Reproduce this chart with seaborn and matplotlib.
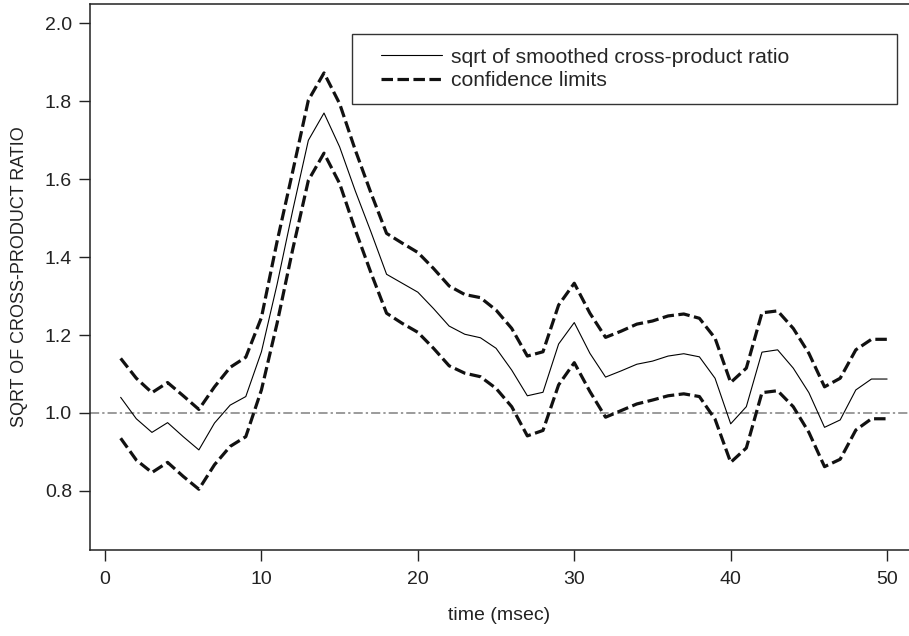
import pandas as pd
import matplotlib
matplotlib.use("Agg")
import matplotlib.pyplot as plt
from matplotlib.lines import Line2D
from matplotlib.legend_handler import HandlerLine2D
import seaborn as sns

# values
time_ms = list(range(1, 51))
ratio = [1.040, 0.985, 0.950, 0.975, 0.939, 0.905, 0.974, 1.020, 1.042, 1.157,
         1.330, 1.520, 1.700, 1.770, 1.683, 1.570, 1.465, 1.356, 1.333, 1.310,
         1.268, 1.223, 1.202, 1.193, 1.166, 1.110, 1.044, 1.053, 1.177, 1.232,
         1.153, 1.092, 1.108, 1.125, 1.133, 1.146, 1.152, 1.144, 1.089, 0.972,
         1.016, 1.156, 1.162, 1.115, 1.052, 0.963, 0.982, 1.059, 1.087, 1.087]
upper = [1.140, 1.089, 1.052, 1.078, 1.044, 1.009, 1.067, 1.117, 1.143, 1.245,
         1.440, 1.620, 1.803, 1.873, 1.794, 1.675, 1.565, 1.461, 1.436, 1.412,
         1.371, 1.326, 1.304, 1.296, 1.264, 1.217, 1.146, 1.157, 1.277, 1.333,
         1.256, 1.194, 1.210, 1.228, 1.236, 1.249, 1.254, 1.243, 1.192, 1.078,
         1.115, 1.257, 1.262, 1.217, 1.153, 1.067, 1.089, 1.162, 1.189, 1.189]
lower = [0.935, 0.879, 0.847, 0.873, 0.837, 0.804, 0.867, 0.914, 0.939, 1.059,
         1.230, 1.420, 1.597, 1.667, 1.589, 1.470, 1.360, 1.256, 1.230, 1.207,
         1.166, 1.121, 1.102, 1.093, 1.063, 1.016, 0.941, 0.955, 1.072, 1.129,
         1.055, 0.989, 1.006, 1.023, 1.033, 1.044, 1.049, 1.042, 0.984, 0.873,
         0.910, 1.052, 1.057, 1.016, 0.950, 0.862, 0.881, 0.956, 0.985, 0.985]
ref_level = 1.0
x_ticks = [0, 10, 20, 30, 40, 50]
y_ticks = [0.8, 1.0, 1.2, 1.4, 1.6, 1.8, 2.0]

df = pd.DataFrame({"time": time_ms, "ratio": ratio, "upper": upper, "lower": lower})

sns.set_style("ticks")
plt.rcParams['font.family'] = ['Liberation Sans', 'DejaVu Sans']

fig = plt.figure(figsize=(9.09, 6.36), dpi=100)
ax = fig.add_axes([90 / 909, 1 - 550 / 636, 819 / 909, 546 / 636])

# reference line at 1
ax.axhline(ref_level, color="#808080", lw=1.1, dashes=(6, 2, 1.5, 2), zorder=1)

sns.lineplot(data=df, x="time", y="ratio", ax=ax, color="black", lw=0.8,
             label="sqrt of smoothed cross-product ratio")
sns.lineplot(data=df, x="time", y="upper", ax=ax, color="#111111", lw=2.3,
             label="confidence limits")
sns.lineplot(data=df, x="time", y="lower", ax=ax, color="#111111", lw=2.3)
for ln in ax.lines[2:]:
    ln.set_dashes((3.6, 1.4))

ax.set_xlim(-0.96, 51.4)
ax.set_ylim(0.648, 2.05)
ax.set_xticks(x_ticks)
ax.set_yticks(y_ticks)
ax.set_yticklabels([f"{v:.1f}" for v in y_ticks])
ax.tick_params(axis="both", labelsize=14, colors="#222222", length=8, width=1)
ax.tick_params(axis="y", pad=5)
ax.tick_params(axis="x", pad=7)
for side in ["left", "top", "bottom"]:
    ax.spines[side].set_color("#222222")
    ax.spines[side].set_linewidth(1.1)
ax.spines["right"].set_visible(False)

ax.set_xlabel("time (msec)", fontsize=14, color="#222222", labelpad=14)
ax.set_ylabel("SQRT OF CROSS-PRODUCT RATIO", fontsize=13, color="#222222", labelpad=12)

leg = ax.legend(loc="upper left", bbox_to_anchor=(0.32, 0.822, 0.665, 0.123),
                mode="expand", borderaxespad=0, fontsize=15.2, handlelength=3.6,
                handletextpad=0.43, borderpad=0.65, labelspacing=0.2,
                fancybox=False, framealpha=1, edgecolor="#333333",
                handler_map={Line2D: HandlerLine2D(xpad=0.7)})
leg.get_frame().set_linewidth(1.0)
leg.get_lines()[1].set_dashes((3.6, 1.4))

fig.savefig("out.png", dpi=100)
